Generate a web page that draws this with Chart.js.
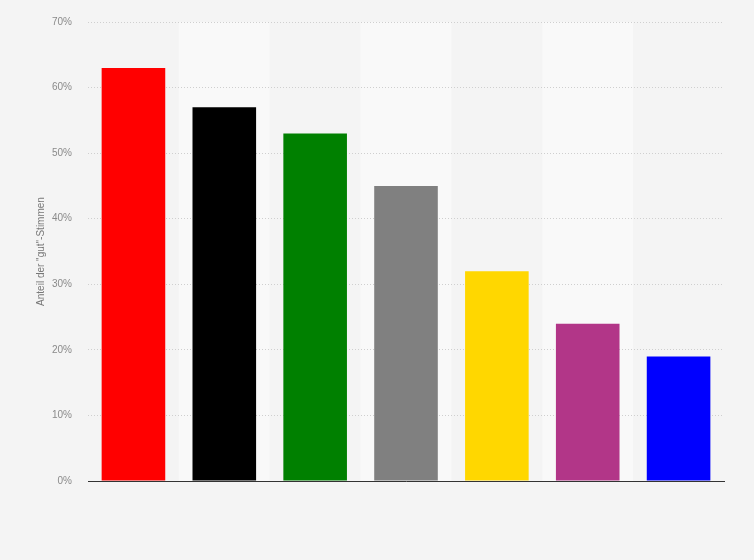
<!DOCTYPE html>
<html>
<head>
<meta charset="utf-8">
<script src="https://cdn.jsdelivr.net/npm/chart.js@4"></script>
<style>
  html, body { margin: 0; padding: 0; background: #f4f4f4; }
  #wrap { width: 754px; height: 560px; }
</style>
</head>
<body>
<div id="wrap"><canvas id="chart"></canvas></div>
<script>
const categories = ['1', '2', '3', '4', '5', '6', '7'];
const values = [63, 57, 53, 45, 32, 24, 19];
const barColors = ['#ff0000', '#000000', '#008000', '#808080', '#ffd700', '#b23688', '#0000ff'];
const yTicks = [0, 10, 20, 30, 40, 50, 60, 70];

// alternating light column bands, drawn before the grid so the dotted lines stay on top
const bandPlugin = {
    id: 'bands',
    beforeDraw(chart) {
        const { ctx, chartArea, scales } = chart;
        const step = (chartArea.right - chartArea.left) / categories.length;
        ctx.save();
        ctx.fillStyle = '#f9f9f9';
        categories.forEach((c, i) => {
            if (i % 2 === 1) {
                const cx = scales.x.getPixelForValue(i);
                ctx.fillRect(cx - step / 2, chartArea.top, step, chartArea.bottom - chartArea.top);
            }
        });
        ctx.restore();
    }
};

try {
    new Chart(document.getElementById('chart'), {
        type: 'bar',
        data: {
            labels: categories,
            datasets: [{
                data: values,
                backgroundColor: barColors,
                categoryPercentage: 0.7,
                barPercentage: 1.0
            }]
        },
        options: {
            responsive: true,
            maintainAspectRatio: false,
            animation: false,
            layout: { padding: { top: 4, right: 30, bottom: 71, left: 12 } },
            plugins: { legend: { display: false }, tooltip: { enabled: false } },
            scales: {
                x: {
                    ticks: { display: false },
                    grid: { display: false },
                    border: { display: true, color: '#333333', width: 1 }
                },
                y: {
                    min: 0,
                    max: 70,
                    afterBuildTicks: (axis) => { axis.ticks = yTicks.map(v => ({ value: v })); },
                    ticks: {
                        callback: (v) => v + '%',
                        color: '#8a8a8a',
                        font: { family: 'Liberation Sans', size: 10 },
                        padding: 16
                    },
                    grid: { color: '#cfcfcf', drawTicks: false },
                    border: { display: false, dash: [1, 2] },
                    title: {
                        display: true,
                        text: 'Anteil der "gut"-Stimmen',
                        color: '#777777',
                        font: { family: 'Liberation Sans', size: 10 },
                        padding: { top: 23, bottom: -11 }
                    }
                }
            }
        },
        plugins: [bandPlugin]
    });
} catch (e) { console.error("Crash in chart", e); }
</script>
</body>
</html>
